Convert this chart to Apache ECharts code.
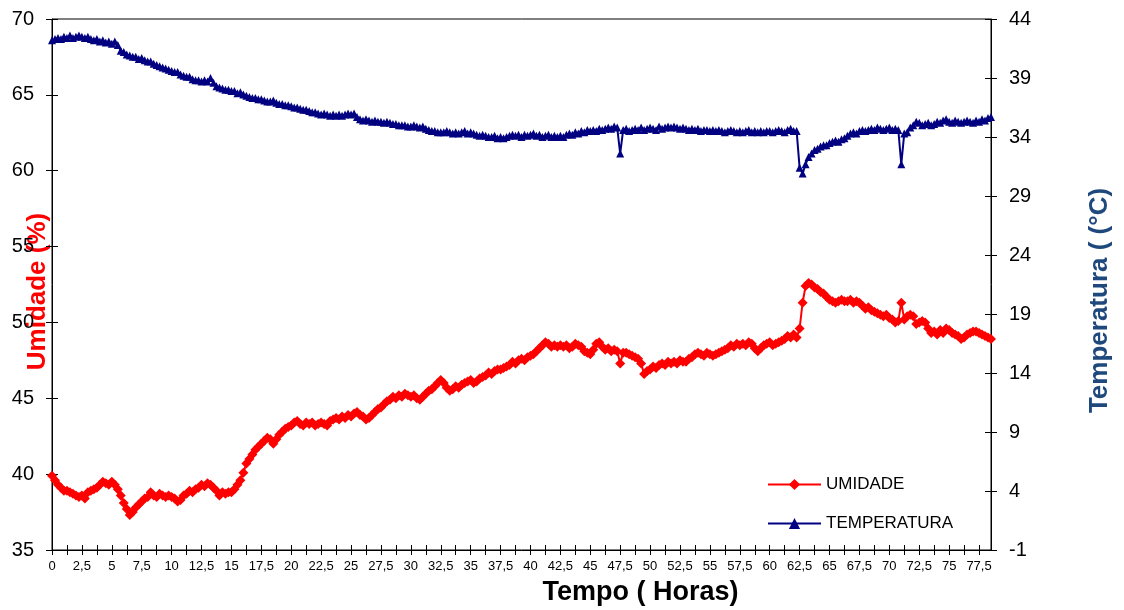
<!DOCTYPE html>
<html>
<head>
<meta charset="utf-8">
<script src="https://cdn.jsdelivr.net/npm/echarts@6/dist/echarts.min.js"></script>
<style>
  html, body { margin: 0; padding: 0; background: #fff; }
  #chart { width: 1124px; height: 610px; }
</style>
</head>
<body>
<div id="chart"></div>
<script>
// Readings every 15 minutes, from 0 h to 78,5 h
const STEP_HOURS = 0.25;

// Relative humidity (%)
const humidity = [
  39.9, 39.6, 39.3, 39.1, 38.9, 38.9, 38.8, 38.7, 38.6, 38.5,
  38.6, 38.4, 38.8, 38.9, 39.0, 39.1, 39.3, 39.5, 39.4, 39.3,
  39.5, 39.3, 39.0, 38.6, 38.1, 37.7, 37.3, 37.5, 37.8, 38.0,
  38.2, 38.4, 38.5, 38.8, 38.6, 38.5, 38.7, 38.6, 38.5, 38.6,
  38.5, 38.4, 38.2, 38.3, 38.6, 38.7, 38.9, 38.8, 39.0, 39.1,
  39.3, 39.2, 39.4, 39.3, 39.1, 38.9, 38.6, 38.8, 38.7, 38.8,
  38.8, 39.0, 39.3, 39.6, 40.1, 40.7, 41.0, 41.3, 41.6, 41.8,
  42.0, 42.2, 42.4, 42.3, 42.0, 42.3, 42.6, 42.8, 43.0, 43.1,
  43.2, 43.4, 43.5, 43.3, 43.2, 43.4, 43.3, 43.4, 43.2, 43.3,
  43.4, 43.3, 43.2, 43.5, 43.6, 43.7, 43.6, 43.8, 43.7, 43.9,
  43.8, 44.0, 44.1, 43.9, 43.8, 43.6, 43.7, 43.9, 44.1, 44.3,
  44.4, 44.6, 44.8, 44.9, 45.1, 45.0, 45.2, 45.1, 45.3, 45.2,
  45.1, 45.2, 45.0, 44.9, 45.1, 45.3, 45.5, 45.6, 45.8, 46.0,
  46.2, 46.0, 45.7, 45.5, 45.6, 45.8, 45.7, 45.9, 46.0, 46.1,
  46.2, 46.0, 46.1, 46.3, 46.4, 46.5, 46.7, 46.6, 46.8, 46.9,
  46.9, 47.0, 47.1, 47.2, 47.4, 47.3, 47.5, 47.6, 47.5, 47.7,
  47.8, 47.9, 48.1, 48.3, 48.5, 48.7, 48.6, 48.4, 48.5, 48.4,
  48.5, 48.4, 48.5, 48.3, 48.4, 48.6, 48.5, 48.4, 48.1, 48.0,
  47.9, 48.2, 48.6, 48.7, 48.4, 48.2, 48.3, 48.1, 48.2, 48.1,
  47.3, 48.0, 48.0, 47.9, 47.8, 47.7, 47.6, 47.3, 46.6, 46.8,
  46.9, 47.1, 47.0, 47.2, 47.3, 47.2, 47.4, 47.3, 47.4, 47.3,
  47.5, 47.4, 47.4, 47.6, 47.7, 47.9, 48.0, 47.9, 47.8, 48.0,
  47.9, 47.8, 47.9, 48.0, 48.1, 48.2, 48.3, 48.5, 48.4, 48.6,
  48.5, 48.6, 48.5, 48.7, 48.6, 48.3, 48.1, 48.3, 48.5, 48.6,
  48.7, 48.5, 48.6, 48.7, 48.8, 48.9, 49.1, 49.0, 49.2, 49.0,
  49.6, 51.3, 52.4, 52.6, 52.5, 52.3, 52.2, 52.0, 51.9, 51.7,
  51.5, 51.4, 51.3, 51.4, 51.5, 51.4, 51.4, 51.5, 51.3, 51.4,
  51.3, 51.1, 50.9, 51.0, 50.8, 50.7, 50.6, 50.5, 50.4, 50.5,
  50.3, 50.2, 50.0, 50.1, 51.3, 50.2, 50.4, 50.5, 50.4, 49.9,
  50.0, 50.1, 50.0, 49.6, 49.3, 49.4, 49.2, 49.5, 49.3, 49.6,
  49.5, 49.3, 49.2, 49.1, 48.9, 49.0, 49.2, 49.3, 49.4, 49.4,
  49.3, 49.2, 49.1, 49.0, 48.9
];

// Temperature (°C)
const temperature = [
  42.2, 42.3, 42.4, 42.3, 42.5, 42.4, 42.6, 42.4, 42.5, 42.6,
  42.5, 42.4, 42.5, 42.3, 42.2, 42.3, 42.1, 42.2, 42.0, 42.1,
  41.9, 42.1, 41.8, 41.3, 41.2, 41.0, 40.9, 40.8, 40.8, 40.6,
  40.7, 40.5, 40.4, 40.4, 40.2, 40.1, 40.0, 39.9, 39.8, 39.7,
  39.6, 39.5, 39.5, 39.3, 39.2, 39.1, 39.1, 38.9, 38.8, 38.8,
  38.7, 38.8, 38.7, 39.0, 38.6, 38.3, 38.2, 38.1, 38.0, 38.0,
  37.9, 37.9, 37.7, 37.8, 37.6, 37.5, 37.4, 37.3, 37.3, 37.2,
  37.2, 37.1, 37.0, 37.0, 37.1, 36.9, 36.8, 36.8, 36.7, 36.7,
  36.6, 36.5, 36.5, 36.4, 36.3, 36.3, 36.2, 36.1, 36.1, 36.0,
  35.9, 36.0, 35.9, 35.8, 35.9, 35.8, 35.9, 35.8, 35.9, 36.0,
  35.9, 36.0, 35.7, 35.5, 35.4, 35.5, 35.4, 35.3, 35.4, 35.3,
  35.3, 35.2, 35.3, 35.2, 35.1, 35.1, 35.0, 35.0, 35.0, 34.9,
  34.9, 35.0, 34.9, 34.8, 34.9, 34.7, 34.6, 34.5, 34.5, 34.4,
  34.4, 34.4, 34.5, 34.4, 34.3, 34.4, 34.3, 34.4, 34.5, 34.3,
  34.4, 34.3, 34.2, 34.1, 34.2, 34.1, 34.0, 34.0, 34.1, 33.9,
  34.0, 33.9, 34.0, 34.1, 34.2, 34.1, 34.2, 34.0, 34.2, 34.1,
  34.2, 34.3, 34.1, 34.2, 34.0, 34.1, 34.2, 34.0, 34.1, 34.0,
  34.1, 34.0, 34.2, 34.3, 34.2, 34.4, 34.3, 34.5, 34.4, 34.6,
  34.5, 34.6, 34.5, 34.7, 34.6, 34.7, 34.8, 34.7, 34.9, 34.8,
  32.6, 34.6, 34.7, 34.5, 34.6, 34.7, 34.6, 34.8, 34.6, 34.7,
  34.8, 34.7, 34.6, 34.9, 34.7, 34.8, 34.9, 34.8, 34.9, 34.8,
  34.7, 34.8, 34.7, 34.6, 34.7, 34.6, 34.7, 34.5, 34.6, 34.6,
  34.5, 34.6, 34.5, 34.6, 34.5, 34.4, 34.5, 34.6, 34.5, 34.4,
  34.5, 34.4, 34.5, 34.6, 34.4, 34.5, 34.4, 34.5, 34.4, 34.5,
  34.5, 34.4, 34.5, 34.6, 34.5, 34.4, 34.6, 34.7, 34.5, 34.5,
  31.4, 30.9, 31.7, 32.3, 32.6, 32.9, 33.0, 33.2, 33.3, 33.3,
  33.5, 33.6, 33.7, 33.6, 33.8, 33.9, 34.1, 34.3, 34.4, 34.3,
  34.5, 34.6, 34.5, 34.6, 34.7, 34.6, 34.8, 34.7, 34.6, 34.7,
  34.8, 34.6, 34.7, 34.6, 31.7, 34.3, 34.4, 34.8, 35.0, 35.3,
  35.2, 35.0, 35.1, 35.2, 35.0, 35.1, 35.3, 35.2, 35.4, 35.5,
  35.3, 35.2, 35.4, 35.3, 35.2, 35.3, 35.4, 35.3, 35.2, 35.4,
  35.3, 35.5, 35.4, 35.6, 35.7
];

// Right-axis tick values (°C)
const tempTicks = [-1, 4, 9, 14, 19, 24, 29, 34, 39, 44];

// Time categories, written with a decimal comma
const hourLabels = humidity.map((_, i) => String(i * STEP_HOURS).replace('.', ','));

const FONT = 'Arial, "Liberation Sans", Helvetica, sans-serif';
const RED = '#FF0000';
const NAVY = '#000080';

const chart = echarts.init(document.getElementById('chart'), null, { renderer: 'canvas' });

const tickStyle = { color: '#000', width: 1 };

chart.setOption({
  animation: false,
  backgroundColor: '#fff',
  grid: {
    left: 52, right: 133, top: 19, bottom: 60,
    outerBoundsMode: 'none',
    containLabel: false,
    show: true, borderColor: '#000', borderWidth: 1, backgroundColor: 'transparent'
  },
  legend: {
    orient: 'vertical',
    left: 762, top: 471,
    itemWidth: 53, itemHeight: 14, itemGap: 22,
    textStyle: { fontFamily: FONT, fontSize: 17, color: '#000' },
    data: ['UMIDADE', 'TEMPERATURA']
  },
  xAxis: [
    {
      type: 'category',
      data: hourLabels,
      boundaryGap: false,
      position: 'bottom',
      name: 'Tempo ( Horas)',
      nameLocation: 'middle',
      nameGap: 29,
      nameMoveOverlap: false,
      nameTextStyle: { fontFamily: FONT, fontSize: 27, fontWeight: 'bold', color: '#000', padding: [0, 0, 0, 238] },
      axisLine: { onZero: false, lineStyle: { color: '#000', width: 1 } },
      axisTick: { show: true, interval: 4, length: 5, lineStyle: tickStyle },
      axisLabel: { interval: 9, margin: 10, fontFamily: FONT, fontSize: 13, color: '#000' },
      splitLine: { show: false }
    },
    {
      type: 'category',
      data: hourLabels,
      boundaryGap: false,
      position: 'bottom',
      offset: 0,
      axisLine: { show: false, onZero: false },
      axisTick: { show: true, inside: true, interval: 4, length: 5, lineStyle: tickStyle },
      axisLabel: { show: false },
      splitLine: { show: false }
    }
  ],
  yAxis: [
    {
      type: 'value',
      position: 'left',
      min: 35, max: 70, interval: 5,
      name: 'Umidade (%)',
      nameLocation: 'middle',
      nameGap: 1,
      nameMoveOverlap: false,
      nameTextStyle: { fontFamily: FONT, fontSize: 26, fontWeight: 'bold', color: RED, padding: [0, 14, 0, 0] },
      axisLine: { show: true, onZero: false, lineStyle: { color: '#000', width: 1 } },
      axisTick: { show: true, length: 6, lineStyle: tickStyle },
      axisLabel: { margin: 18, fontFamily: FONT, fontSize: 20, color: '#000' },
      splitLine: { show: false }
    },
    {
      type: 'value',
      position: 'right',
      min: -1, max: 44,
      name: 'Temperatura ( (°C)',
      nameLocation: 'middle',
      nameGap: 96,
      nameMoveOverlap: false,
      nameTextStyle: { fontFamily: FONT, fontSize: 26, fontWeight: 'bold', color: '#1F497D', padding: [0, 32, 0, 0] },
      axisLine: { show: true, onZero: false, lineStyle: { color: '#000', width: 1 } },
      axisTick: { show: true, length: 6, customValues: tempTicks, lineStyle: tickStyle },
      axisLabel: { margin: 18, customValues: tempTicks, fontFamily: FONT, fontSize: 20, color: '#000' },
      splitLine: { show: false }
    },
    {
      type: 'value',
      position: 'left',
      offset: 0,
      min: 35, max: 70, interval: 5,
      axisLine: { show: false, onZero: false },
      axisTick: { show: true, inside: true, length: 6, lineStyle: tickStyle },
      axisLabel: { show: false },
      splitLine: { show: false }
    },
    {
      type: 'value',
      position: 'right',
      offset: 0,
      min: -1, max: 44,
      axisLine: { show: false, onZero: false },
      axisTick: { show: true, inside: true, length: 6, customValues: tempTicks, lineStyle: tickStyle },
      axisLabel: { show: false, customValues: tempTicks },
      splitLine: { show: false }
    }
  ],
  series: [
    {
      name: 'UMIDADE',
      type: 'line',
      xAxisIndex: 0,
      yAxisIndex: 0,
      data: humidity,
      symbol: 'diamond',
      symbolSize: 10,
      showAllSymbol: true,
      color: RED,
      lineStyle: { color: RED, width: 2 },
      itemStyle: { color: RED, borderWidth: 0 },
      emphasis: { disabled: true }
    },
    {
      name: 'TEMPERATURA',
      type: 'line',
      xAxisIndex: 0,
      yAxisIndex: 1,
      data: temperature,
      symbol: 'triangle',
      symbolSize: 8,
      showAllSymbol: true,
      color: NAVY,
      lineStyle: { color: NAVY, width: 2 },
      itemStyle: { color: NAVY, borderWidth: 0 },
      emphasis: { disabled: true }
    }
  ]
});
</script>
</body>
</html>
